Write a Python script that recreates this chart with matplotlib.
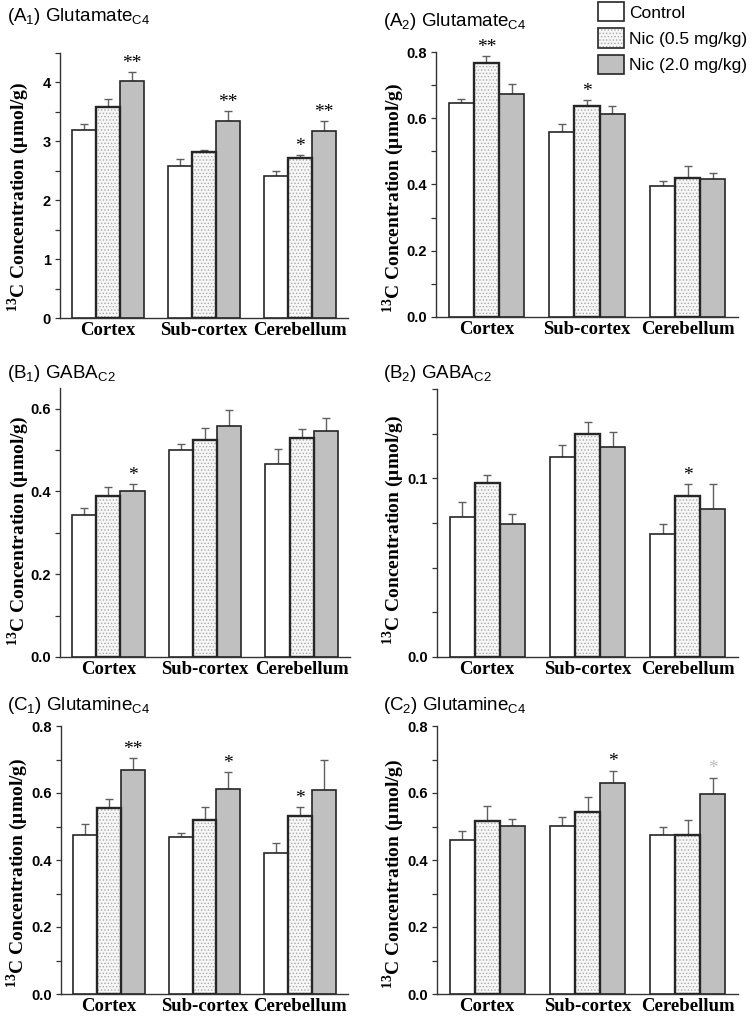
import matplotlib
matplotlib.use('Agg')
import matplotlib.pyplot as plt
from matplotlib.patches import Patch
from matplotlib.ticker import MultipleLocator, FormatStrFormatter
import numpy as np

plt.rcParams['mathtext.fontset'] = 'custom'
plt.rcParams['mathtext.rm'] = 'Liberation Sans'
plt.rcParams['mathtext.bf'] = 'Liberation Serif:bold'
plt.rcParams['hatch.color'] = '#a8a8a8'
plt.rcParams['hatch.linewidth'] = 0.6

categories = ['Cortex', 'Sub-cortex', 'Cerebellum']
groups = ['Control', 'Nic (0.5 mg/kg)', 'Nic (2.0 mg/kg)']

# (A1) Glutamate C4
a1_ctrl = [3.19, 2.58, 2.41]
a1_nic05 = [3.58, 2.82, 2.71]
a1_nic2 = [4.02, 3.35, 3.18]
a1_ctrl_sem = [0.11, 0.12, 0.09]
a1_nic05_sem = [0.14, 0.03, 0.06]
a1_nic2_sem = [0.16, 0.17, 0.17]

# (A2) Glutamate C4
a2_ctrl = [0.645, 0.558, 0.394]
a2_nic05 = [0.767, 0.636, 0.419]
a2_nic2 = [0.674, 0.613, 0.417]
a2_ctrl_sem = [0.012, 0.025, 0.017]
a2_nic05_sem = [0.020, 0.020, 0.038]
a2_nic2_sem = [0.030, 0.025, 0.019]

# (B1) GABA C2
b1_ctrl = [0.342, 0.499, 0.467]
b1_nic05 = [0.390, 0.525, 0.530]
b1_nic2 = [0.402, 0.559, 0.546]
b1_ctrl_sem = [0.018, 0.016, 0.035]
b1_nic05_sem = [0.020, 0.029, 0.021]
b1_nic2_sem = [0.016, 0.037, 0.031]

# (B2) GABA C2
b2_ctrl = [0.0782, 0.1117, 0.0689]
b2_nic05 = [0.0974, 0.1248, 0.0903]
b2_nic2 = [0.0745, 0.1177, 0.0829]
b2_ctrl_sem = [0.0084, 0.0069, 0.0058]
b2_nic05_sem = [0.0045, 0.0069, 0.0065]
b2_nic2_sem = [0.0054, 0.0083, 0.0139]

# (C1) Glutamine C4
c1_ctrl = [0.476, 0.470, 0.420]
c1_nic05 = [0.554, 0.520, 0.531]
c1_nic2 = [0.668, 0.613, 0.609]
c1_ctrl_sem = [0.030, 0.012, 0.030]
c1_nic05_sem = [0.028, 0.037, 0.026]
c1_nic2_sem = [0.035, 0.050, 0.089]

# (C2) Glutamine C4
c2_ctrl = [0.459, 0.502, 0.476]
c2_nic05 = [0.516, 0.544, 0.474]
c2_nic2 = [0.502, 0.631, 0.596]
c2_ctrl_sem = [0.029, 0.027, 0.022]
c2_nic05_sem = [0.045, 0.043, 0.045]
c2_nic2_sem = [0.020, 0.036, 0.050]

# significance marks: (category, group, text, colour)
a1_stars = [(0, 2, '**', 'black'), (1, 2, '**', 'black'), (2, 1, '*', 'black'), (2, 2, '**', 'black')]
a2_stars = [(0, 1, '**', 'black'), (1, 1, '*', 'black')]
b1_stars = [(0, 2, '*', 'black')]
b2_stars = [(2, 1, '*', 'black')]
c1_stars = [(0, 2, '**', 'black'), (1, 2, '*', 'black'), (2, 1, '*', 'black')]
c2_stars = [(1, 2, '*', 'black'), (2, 2, '*', '#bdbdbd')]

W, H = 752, 1016
fig = plt.figure(figsize=(W / 100, H / 100), dpi=100)

EDGE = '#262626'
GRAY = '#c0c0c0'


def px_axes(left, top, right, bottom):
    return fig.add_axes([left / W, 1 - bottom / H, (right - left) / W, (bottom - top) / H])


def draw_panel(box, title, title_pos, label_pos, data, sems, stars, ylim, major, minor, fmt):
    ax = px_axes(*box)
    x = np.arange(len(categories))
    width = 0.25
    for g in range(3):
        xs = x + (g - 1) * width
        if g == 0:
            ax.bar(xs, data[g], width, color='white', edgecolor=EDGE, linewidth=1.2, zorder=3)
        elif g == 1:
            ax.bar(xs, data[g], width, color='#f7f7f7', hatch='.....', zorder=3)
            ax.bar(xs, data[g], width, fill=False, edgecolor=EDGE, linewidth=1.7, zorder=4)
        else:
            ax.bar(xs, data[g], width, color=GRAY, edgecolor=EDGE, linewidth=1.2, zorder=3)
        ax.errorbar(xs, data[g], yerr=[np.zeros(3), sems[g]], fmt='none',
                    ecolor='#606060', elinewidth=1.0, capsize=3, capthick=1.0, zorder=2)
    for c, g, txt, col in stars:
        top = data[g][c] + sems[g][c]
        ax.annotate(txt, (x[c] + (g - 1) * width, top), xytext=(0, 3), textcoords='offset points',
                    ha='center', va='baseline', fontsize=14, color=col, family='Liberation Serif')
    ax.set_xlim(-0.5, 2.5)
    ax.set_ylim(*ylim)
    ax.yaxis.set_major_locator(MultipleLocator(major))
    ax.yaxis.set_minor_locator(MultipleLocator(minor))
    ax.yaxis.set_major_formatter(FormatStrFormatter(fmt))
    ax.set_xticks(x)
    ax.set_xticklabels(categories, family='Liberation Serif', fontweight='bold', fontsize=13.5)
    ax.tick_params(axis='x', length=0, pad=3)
    ax.tick_params(axis='y', which='both', direction='out', length=3.5, width=0.9, color='#333333',
                   labelsize=10.5, pad=3)
    for lab in ax.get_yticklabels():
        lab.set_family('Liberation Sans')
        lab.set_fontweight('bold')
    for s in ['top', 'right']:
        ax.spines[s].set_visible(False)
    for s in ['left', 'bottom']:
        ax.spines[s].set_color('#333333')
        ax.spines[s].set_linewidth(1.0)
    fig.text(title_pos[0] / W, 1 - title_pos[1] / H, title, ha='left', va='baseline',
             fontsize=13.5, family='Liberation Sans')
    fig.text(label_pos[0] / W, 1 - label_pos[1] / H, r'$^{\mathbf{13}}$C Concentration (μmol/g)',
             rotation=90, ha='center', va='center', fontsize=14, fontweight='bold',
             family='Liberation Serif')
    return ax


draw_panel((60, 53, 348, 318), r'(A$_1$) Glutamate$_{\mathrm{C4}}$', (7, 21), (18, 197),
           [a1_ctrl, a1_nic05, a1_nic2], [a1_ctrl_sem, a1_nic05_sem, a1_nic2_sem],
           a1_stars, (0, 4.5), 1, 0.5, '%d')
draw_panel((436, 52, 738, 317), r'(A$_2$) Glutamate$_{\mathrm{C4}}$', (383, 26), (393, 198),
           [a2_ctrl, a2_nic05, a2_nic2], [a2_ctrl_sem, a2_nic05_sem, a2_nic2_sem],
           a2_stars, (0, 0.8), 0.2, 0.1, '%.1f')
draw_panel((60, 388, 350, 657), r'(B$_1$) GABA$_{\mathrm{C2}}$', (7, 378), (18, 531),
           [b1_ctrl, b1_nic05, b1_nic2], [b1_ctrl_sem, b1_nic05_sem, b1_nic2_sem],
           b1_stars, (0, 0.65), 0.2, 0.1, '%.1f')
draw_panel((437, 389, 738, 657), r'(B$_2$) GABA$_{\mathrm{C2}}$', (383, 378), (393, 530),
           [b2_ctrl, b2_nic05, b2_nic2], [b2_ctrl_sem, b2_nic05_sem, b2_nic2_sem],
           b2_stars, (0, 0.15), 0.1, 0.025, '%.1f')
draw_panel((61, 726, 348, 994), r'(C$_1$) Glutamine$_{\mathrm{C4}}$', (7, 710), (17, 873),
           [c1_ctrl, c1_nic05, c1_nic2], [c1_ctrl_sem, c1_nic05_sem, c1_nic2_sem],
           c1_stars, (0, 0.8), 0.2, 0.1, '%.1f')
draw_panel((437, 726, 738, 994), r'(C$_2$) Glutamine$_{\mathrm{C4}}$', (383, 710), (393, 874),
           [c2_ctrl, c2_nic05, c2_nic2], [c2_ctrl_sem, c2_nic05_sem, c2_nic2_sem],
           c2_stars, (0, 0.8), 0.2, 0.1, '%.1f')

# legend
h_ctrl = Patch(facecolor='white', edgecolor=EDGE, linewidth=1.2)
h_dot_fill = Patch(facecolor='#f7f7f7', hatch='.....')
h_dot_edge = Patch(fill=False, edgecolor=EDGE, linewidth=1.2)
h_gray = Patch(facecolor=GRAY, edgecolor=EDGE, linewidth=1.2)
fig.legend([h_ctrl, (h_dot_fill, h_dot_edge), h_gray], groups, loc='upper left',
           bbox_to_anchor=(598 / W, 1 - 2 / H), frameon=False, borderpad=0, borderaxespad=0,
           handlelength=1.5, handleheight=1.35, handletextpad=0.3, labelspacing=0.4,
           prop={'family': 'Liberation Sans', 'size': 12.5})

fig.savefig('out.png', dpi=100)
